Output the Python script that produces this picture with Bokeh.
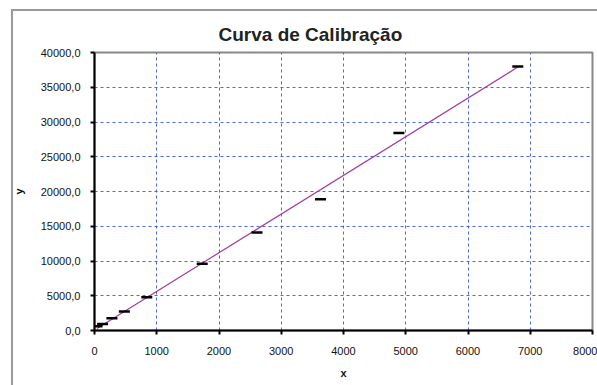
from bokeh.plotting import figure
from bokeh.models import FixedTicker, Title
from bokeh.embed import file_html
from bokeh.resources import INLINE
import numpy as np

title_text = "Curva de Calibração"
x_vals = [40, 130, 280, 480, 840, 1730, 2610, 3630, 4890, 6800]
y_vals = [600, 950, 1750, 2750, 4800, 9600, 14100, 18900, 28400, 38000]
x_ticks = [0, 1000, 2000, 3000, 4000, 5000, 6000, 7000, 8000]
y_ticks = [0, 5000, 10000, 15000, 20000, 25000, 30000, 35000, 40000]
y_tick_labels = ["0,0", "5000,0", "10000,0", "15000,0", "20000,0",
                 "25000,0", "30000,0", "35000,0", "40000,0"]

FONT = "Liberation Sans"

p = figure(width=597, height=385, output_backend="svg", toolbar_location=None,
           x_range=(0, 8000), y_range=(0, 40000),
           min_border_left=94, min_border_top=52, min_border_right=5, min_border_bottom=55)
p.title = None
t = Title(text=title_text, align="left", text_font=FONT, text_font_size="19px",
          text_font_style="bold", text_color="#222222", offset=124, standoff=16)
p.add_layout(t, "above")

p.background_fill_color = "white"
p.border_fill_color = None
p.styles = {
    "background": "linear-gradient(#9a9a9a, #9a9a9a) 11px 9px / 2px 100% no-repeat, "
                  "linear-gradient(#9a9a9a, #9a9a9a) 11px 9px / 100% 2px no-repeat, white"
}
p.outline_line_color = "#888888"
p.outline_line_width = 2

for ax, ticks in ((p.xaxis[0], x_ticks), (p.yaxis[0], y_ticks)):
    ax.ticker = FixedTicker(ticks=ticks)
    ax.axis_line_color = "black"
    ax.axis_line_width = 2
    ax.major_tick_line_color = "black"
    ax.major_tick_line_width = 2
    ax.major_tick_out = 4
    ax.major_tick_in = 0
    ax.minor_tick_line_color = None
    ax.major_label_text_font = FONT
    ax.major_label_text_font_size = "11px"
    ax.major_label_text_color = "#111111"
    ax.axis_label_text_font = FONT
    ax.axis_label_text_font_size = "11px"
    ax.axis_label_text_font_style = "bold"
    ax.axis_label_text_color = "#111111"

p.xaxis.major_label_standoff = 12
p.yaxis.major_label_standoff = 10
p.yaxis.major_label_overrides = {v: s for v, s in zip(y_ticks, y_tick_labels)}
p.xaxis.axis_label = "x"
p.yaxis.axis_label = "y"
p.xaxis.axis_label_standoff = 9
p.yaxis.axis_label_standoff = 13

for g in (p.xgrid[0], p.ygrid[0]):
    g.grid_line_color = "#2a4ef0"
    g.grid_line_dash = "3 3"
    g.grid_line_width = 1
    g.grid_line_alpha = 0.85

coef = np.polyfit(x_vals, y_vals, 1)
lx = np.array([min(x_vals), max(x_vals)])
p.line(lx, np.polyval(coef, lx), line_color="#a03ca0", line_width=1.2)
p.scatter(x_vals, y_vals, marker="dash", size=11, line_color="black", line_width=2.5)

open("out.html", "w").write(file_html(p, INLINE))
